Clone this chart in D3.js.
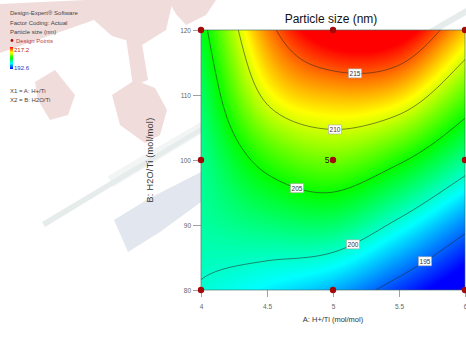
<!DOCTYPE html>
<html><head><meta charset="utf-8">
<script src="https://cdn.jsdelivr.net/npm/d3@7"></script>
<style>
body{margin:0;background:#fff}
svg{display:block;font-family:"Liberation Sans",Arial,sans-serif}
</style>
</head><body><div id="main"></div>
<script>
var aGrid = [4, 4.5, 5, 5.5, 6]
var bGrid = [80, 90, 100, 110, 120]
// particle size (nm), rows follow bGrid, columns follow aGrid
var sizeGrid = [
  [199.8, 198.4, 196.8, 193.9, 190.8],
  [201.0, 202.0, 202.3, 199.4, 195.7],
  [201.4, 205.9, 207.6, 205.4, 201.4],
  [202.4, 210.6, 212.8, 212.0, 207.0],
  [204.0, 214.0, 218.9, 218.5, 212.5]
]
var levels = [195, 200, 205, 210, 215]
var labelA = [5.7, 5.15, 4.73, 5.02, 5.17]   // A value where each contour label sits
var designA = [4, 5, 6]
var designB = [80, 100, 120]
var centerRuns = "5"
var xTicks = [4, 4.5, 5, 5.5, 6]
var yTicks = [80, 90, 100, 110, 120]
var sizeMin = 192.6, sizeMax = 217.2

var W = 466, H = 347
var svg = d3.select("#main").append("svg").attr("width", W).attr("height", H)

// faint watermark behind everything
var wm = svg.append("g")
var pink = "#f1dcdc"
;[
  [[0,4],[86,0],[94,20],[0,53]],
  [[84,0],[173,0],[166,30],[142,45],[112,36],[94,20]],
  [[126,38],[141,38],[148,80],[133,86]],
  [[112,95],[135,80],[155,88],[167,110],[160,135],[145,143],[120,125]],
  [[35,82],[55,70],[75,95],[68,115],[50,120],[38,100]],
  [[168,0],[216,0],[206,15],[186,25],[176,14]]
].forEach(p => wm.append("polygon").attr("points", p.join(" ")).attr("fill", pink))
wm.append("polygon").attr("points", [[108,176],[201,122],[201,134],[113,187]].join(" ")).attr("fill", "#f2f5f4")
wm.append("polygon").attr("points", [[42,222],[201,127],[201,132],[45,227]].join(" ")).attr("fill", "#e6eceb")
wm.append("polygon").attr("points", [[114,220],[150,198],[201,172],[201,202],[160,232],[128,252]].join(" ")).attr("fill", "#e2e6ee")
wm.append("polygon").attr("points", [[428,30],[466,8],[466,15],[440,30]].join(" ")).attr("fill", "#e6eceb")

var x = d3.scaleLinear().domain([4, 6]).range([201, 465])
var y = d3.scaleLinear().domain([80, 120]).range([290, 30])

var color = d3.scaleLinear()
  .domain(d3.range(5).map(i => sizeMin + i * (sizeMax - sizeMin) / 4))
  .range(["#0000ff", "#00ffff", "#00ff00", "#ffff00", "#ff0000"])
  .clamp(true)

// smooth (catmull-rom) resampling of the read-off grid
function cr(p, t) {
  var n = p.length
  var i = Math.min(Math.floor(t), n - 2), f = t - i
  var get = k => k < 0 ? 2 * p[0] - p[1] : k > n - 1 ? 2 * p[n - 1] - p[n - 2] : p[k]
  var p0 = get(i - 1), p1 = get(i), p2 = get(i + 1), p3 = get(i + 2)
  return 0.5 * (2 * p1 + (-p0 + p2) * f + (2 * p0 - 5 * p1 + 4 * p2 - p3) * f * f + (-p0 + 3 * p1 - 3 * p2 + p3) * f * f * f)
}
var nx = 133, ny = 131
var da = aGrid[1] - aGrid[0], db = bGrid[1] - bGrid[0]
var cols = d3.range(nx).map(i => {
  var A = 4 + i * 2 / (nx - 1)
  return sizeGrid.map(row => cr(row, (A - aGrid[0]) / da))
})
var values = new Array(nx * ny)
for (var j = 0; j < ny; j++) {
  var B = 120 - j * 40 / (ny - 1)
  for (var i = 0; i < nx; i++) values[j * nx + i] = cr(cols[i], (B - bGrid[0]) / db)
}
var gxA = gx => 4 + (gx - 0.5) * 2 / (nx - 1)
var gyB = gy => 120 - (gy - 0.5) * 40 / (ny - 1)
var proj = d3.geoTransform({
  point: function(gx, gy) { this.stream.point(x(gxA(gx)), y(gyB(gy))) }
})
var path = d3.geoPath(proj)

svg.append("clipPath").attr("id", "plotclip").append("rect")
  .attr("x", x(4)).attr("y", y(120)).attr("width", x(6) - x(4)).attr("height", y(80) - y(120))

var plot = svg.append("g").attr("clip-path", "url(#plotclip)")
var step = 0.2
var fills = d3.contours().size([nx, ny]).thresholds(d3.range(184, 224, step))(values)
plot.append("rect").attr("x", x(4)).attr("y", y(120)).attr("width", x(6) - x(4)).attr("height", y(80) - y(120))
  .attr("fill", color(184))
plot.selectAll("path.fill").data(fills).enter().append("path")
  .attr("class", "fill")
  .attr("d", path)
  .attr("fill", d => color(d.value + step / 2))
  .attr("stroke", d => color(d.value + step / 2))
  .attr("stroke-width", 0.6)

var lines = d3.contours().size([nx, ny]).thresholds(levels)(values)
plot.selectAll("path.line").data(lines).enter().append("path")
  .attr("class", "line")
  .attr("d", path)
  .attr("fill", "none")
  .attr("stroke", "#2a2a2a")
  .attr("stroke-width", 0.7)
  .attr("stroke-opacity", 0.8)

svg.append("rect").attr("x", x(4)).attr("y", y(120)).attr("width", x(6) - x(4)).attr("height", y(80) - y(120))
  .attr("fill", "none").attr("stroke", "#3a6a5a").attr("stroke-width", 0.6)

// contour labels
lines.forEach((c, k) => {
  var tx = x(labelA[k]), best = null
  c.coordinates.forEach(poly => poly.forEach(ring => ring.forEach(pt => {
    var px = x(gxA(pt[0])), py = y(gyB(pt[1]))
    if (px < x(4) + 4 || px > x(6) - 4 || py < y(120) + 4 || py > y(80) - 4) return
    var d = Math.abs(px - tx)
    if (!best || d < best.d) best = { d: d, x: px, y: py }
  })))
  if (!best) return
  var g = svg.append("g").attr("transform", `translate(${best.x},${best.y})`)
  g.append("rect").attr("x", -6.5).attr("y", -4.5).attr("width", 13).attr("height", 9)
    .attr("fill", "#fff").attr("stroke", "#aaa").attr("stroke-width", 0.6)
  g.append("text").attr("text-anchor", "middle").attr("y", 2.5).attr("font-size", 6.5).attr("fill", "#333")
    .text(levels[k])
})

// axes
var yAxis = svg.append("g").attr("transform", `translate(${x(4)},0)`)
  .call(d3.axisLeft(y).tickValues(yTicks).tickSize(8).tickPadding(2).tickFormat(d3.format("d")))
var xAxis = svg.append("g").attr("transform", `translate(0,${y(80)})`)
  .call(d3.axisBottom(x).tickValues(xTicks).tickSize(7).tickPadding(7).tickFormat(d => d))
;[yAxis, xAxis].forEach(a => {
  a.select(".domain").remove()
  a.selectAll(".tick line").attr("stroke", "#777").attr("stroke-width", 0.7)
  a.selectAll(".tick text").attr("fill", "#666").attr("font-size", 6.5)
    .attr("font-family", '"Liberation Sans", Arial, sans-serif')
})

// design points
designA.forEach(a => designB.forEach(b => {
  svg.append("circle").attr("cx", x(a)).attr("cy", y(b)).attr("r", 3.2).attr("fill", "#a30a0a")
}))
svg.append("text").attr("x", x(5) - 3.5).attr("y", y(100) + 2.5).attr("text-anchor", "end")
  .attr("font-size", 8.5).attr("fill", "#222").text(centerRuns)

// titles
svg.append("text").attr("x", 331).attr("y", 23).attr("text-anchor", "middle")
  .attr("font-size", 12).attr("fill", "#111").text("Particle size (nm)")
svg.append("text").attr("x", (x(4) + x(6)) / 2).attr("y", 322).attr("text-anchor", "middle")
  .attr("font-size", 7.5).attr("fill", "#333").text("A: H+/Ti (mol/mol)")
svg.append("text").attr("transform", `translate(153,${(y(80) + y(120)) / 2}) rotate(-90)`)
  .attr("text-anchor", "middle").attr("font-size", 9).attr("fill", "#333").attr("letter-spacing", 0.3)
  .text("B: H2O/Ti (mol/mol)")

// left info block
var info = svg.append("g").attr("font-size", 6).attr("fill", "#444")
info.append("text").attr("x", 10).attr("y", 15).text("Design-Expert® Software")
info.append("text").attr("x", 10).attr("y", 24.5).text("Factor Coding: Actual")
info.append("text").attr("x", 10).attr("y", 34).text("Particle size (nm)")
info.append("circle").attr("cx", 12).attr("cy", 40.5).attr("r", 1.4).attr("fill", "#a30a0a")
info.append("text").attr("x", 16).attr("y", 43).attr("fill", "#b04050").text("Design Points")
var grad = svg.append("defs").append("linearGradient").attr("id", "cbar")
  .attr("x1", 0).attr("y1", 0).attr("x2", 0).attr("y2", 1)
color.domain().slice().reverse().forEach((v, i) => {
  grad.append("stop").attr("offset", i / 4).attr("stop-color", color(v))
})
svg.append("rect").attr("x", 10).attr("y", 47).attr("width", 3).attr("height", 22).attr("fill", "url(#cbar)")
info.append("text").attr("x", 14).attr("y", 51.5).attr("fill", "#c02020").text(sizeMax)
info.append("text").attr("x", 14).attr("y", 70).attr("fill", "#3030c0").text(sizeMin)
info.append("text").attr("x", 10).attr("y", 92.5).text("X1 = A: H+/Ti")
info.append("text").attr("x", 10).attr("y", 102).text("X2 = B: H2O/Ti")
</script>
</body></html>
